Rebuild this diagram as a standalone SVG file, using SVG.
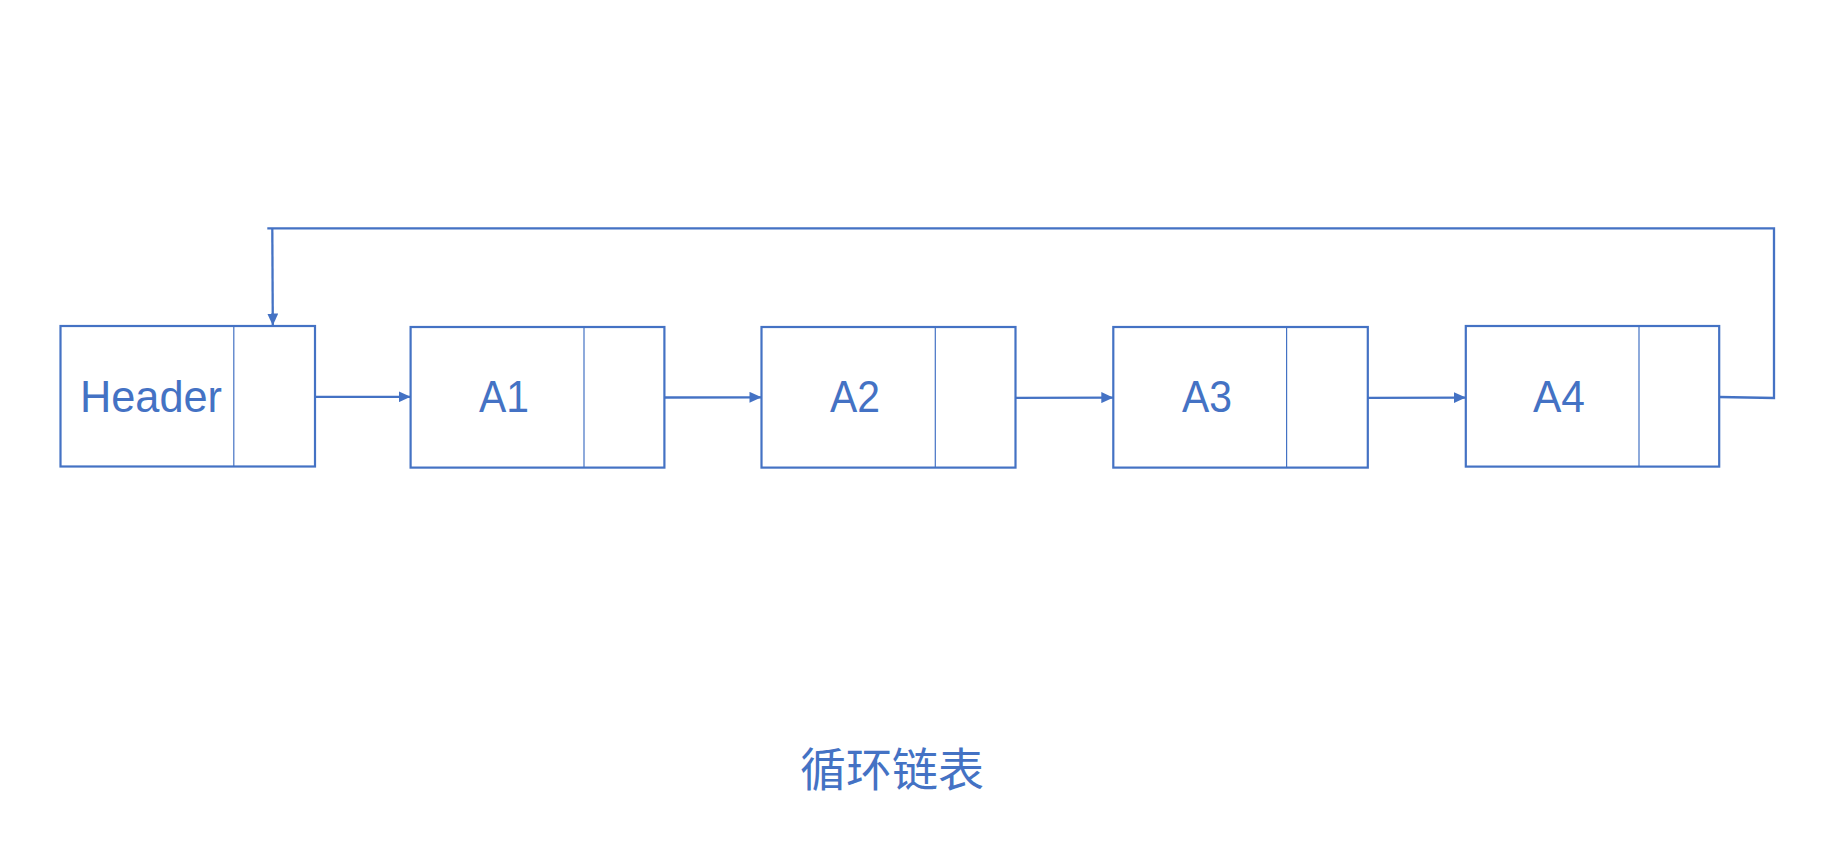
<svg xmlns="http://www.w3.org/2000/svg" width="1824" height="864" viewBox="0 0 1824 864">
<style>
.box{fill:#FFFFFF;stroke:#4472C4;stroke-width:2.2}
.div{stroke:#4472C4;stroke-width:1.2;fill:none}
.lbl{font-family:"Liberation Sans","Noto Sans",Arial,sans-serif;font-size:44px;fill:#4472C4;text-anchor:middle}
.cap{font-family:"Liberation Sans","Noto Sans CJK SC",sans-serif;font-size:46px;fill:#4472C4;text-anchor:middle}
.con{stroke:#4472C4;stroke-width:2.3;fill:none}
</style>
<defs>
<marker id="arr" markerWidth="12" markerHeight="11" refX="12" refY="5.5" orient="auto" markerUnits="userSpaceOnUse">
<path d="M0,0 L12,5.5 L0,11 Z" fill="#4472C4"/>
</marker>
</defs>
<rect width="1824" height="864" fill="#FFFFFF"/>
<g id="header">
<rect class="box" x="60.5" y="326" width="254.5" height="140.5"/>
<line class="div" x1="233.8" y1="326" x2="233.8" y2="466.5"/>
<text class="lbl" x="151" y="411.5" textLength="142" lengthAdjust="spacingAndGlyphs">Header</text>
</g>
<g id="a1">
<rect class="box" x="410.6" y="327" width="253.8" height="140.6"/>
<line class="div" x1="584" y1="327" x2="584" y2="467.6"/>
<text class="lbl" x="504" y="411.5" textLength="50" lengthAdjust="spacingAndGlyphs">A1</text>
</g>
<g id="a2">
<rect class="box" x="761.5" y="327" width="254" height="140.6"/>
<line class="div" x1="935.3" y1="327" x2="935.3" y2="467.6"/>
<text class="lbl" x="855" y="411.5" textLength="50" lengthAdjust="spacingAndGlyphs">A2</text>
</g>
<g id="a3">
<rect class="box" x="1113.3" y="327" width="254.5" height="140.6"/>
<line class="div" x1="1286.6" y1="327" x2="1286.6" y2="467.6"/>
<text class="lbl" x="1207" y="411.5" textLength="50" lengthAdjust="spacingAndGlyphs">A3</text>
</g>
<g id="a4">
<rect class="box" x="1465.8" y="326" width="253.4" height="140.6"/>
<line class="div" x1="1639" y1="326" x2="1639" y2="466.6"/>
<text class="lbl" x="1559" y="411.5" textLength="52" lengthAdjust="spacingAndGlyphs">A4</text>
</g>
<g id="connectors">
<line class="con" x1="315" y1="396.8" x2="410.6" y2="396.8" marker-end="url(#arr)"/>
<line class="con" x1="664.4" y1="397.5" x2="761.5" y2="397.3" marker-end="url(#arr)"/>
<line class="con" x1="1015.5" y1="397.8" x2="1113.3" y2="397.6" marker-end="url(#arr)"/>
<line class="con" x1="1367.8" y1="397.8" x2="1465.8" y2="397.6" marker-end="url(#arr)"/>
<polyline class="con" points="1719.2,397 1774,398 1774,228.3 267.3,228.3"/>
<line class="con" x1="272.3" y1="228.3" x2="272.8" y2="325.5" marker-end="url(#arr)"/>
</g>
<text class="cap" x="892" y="786">循环链表</text>
</svg>
